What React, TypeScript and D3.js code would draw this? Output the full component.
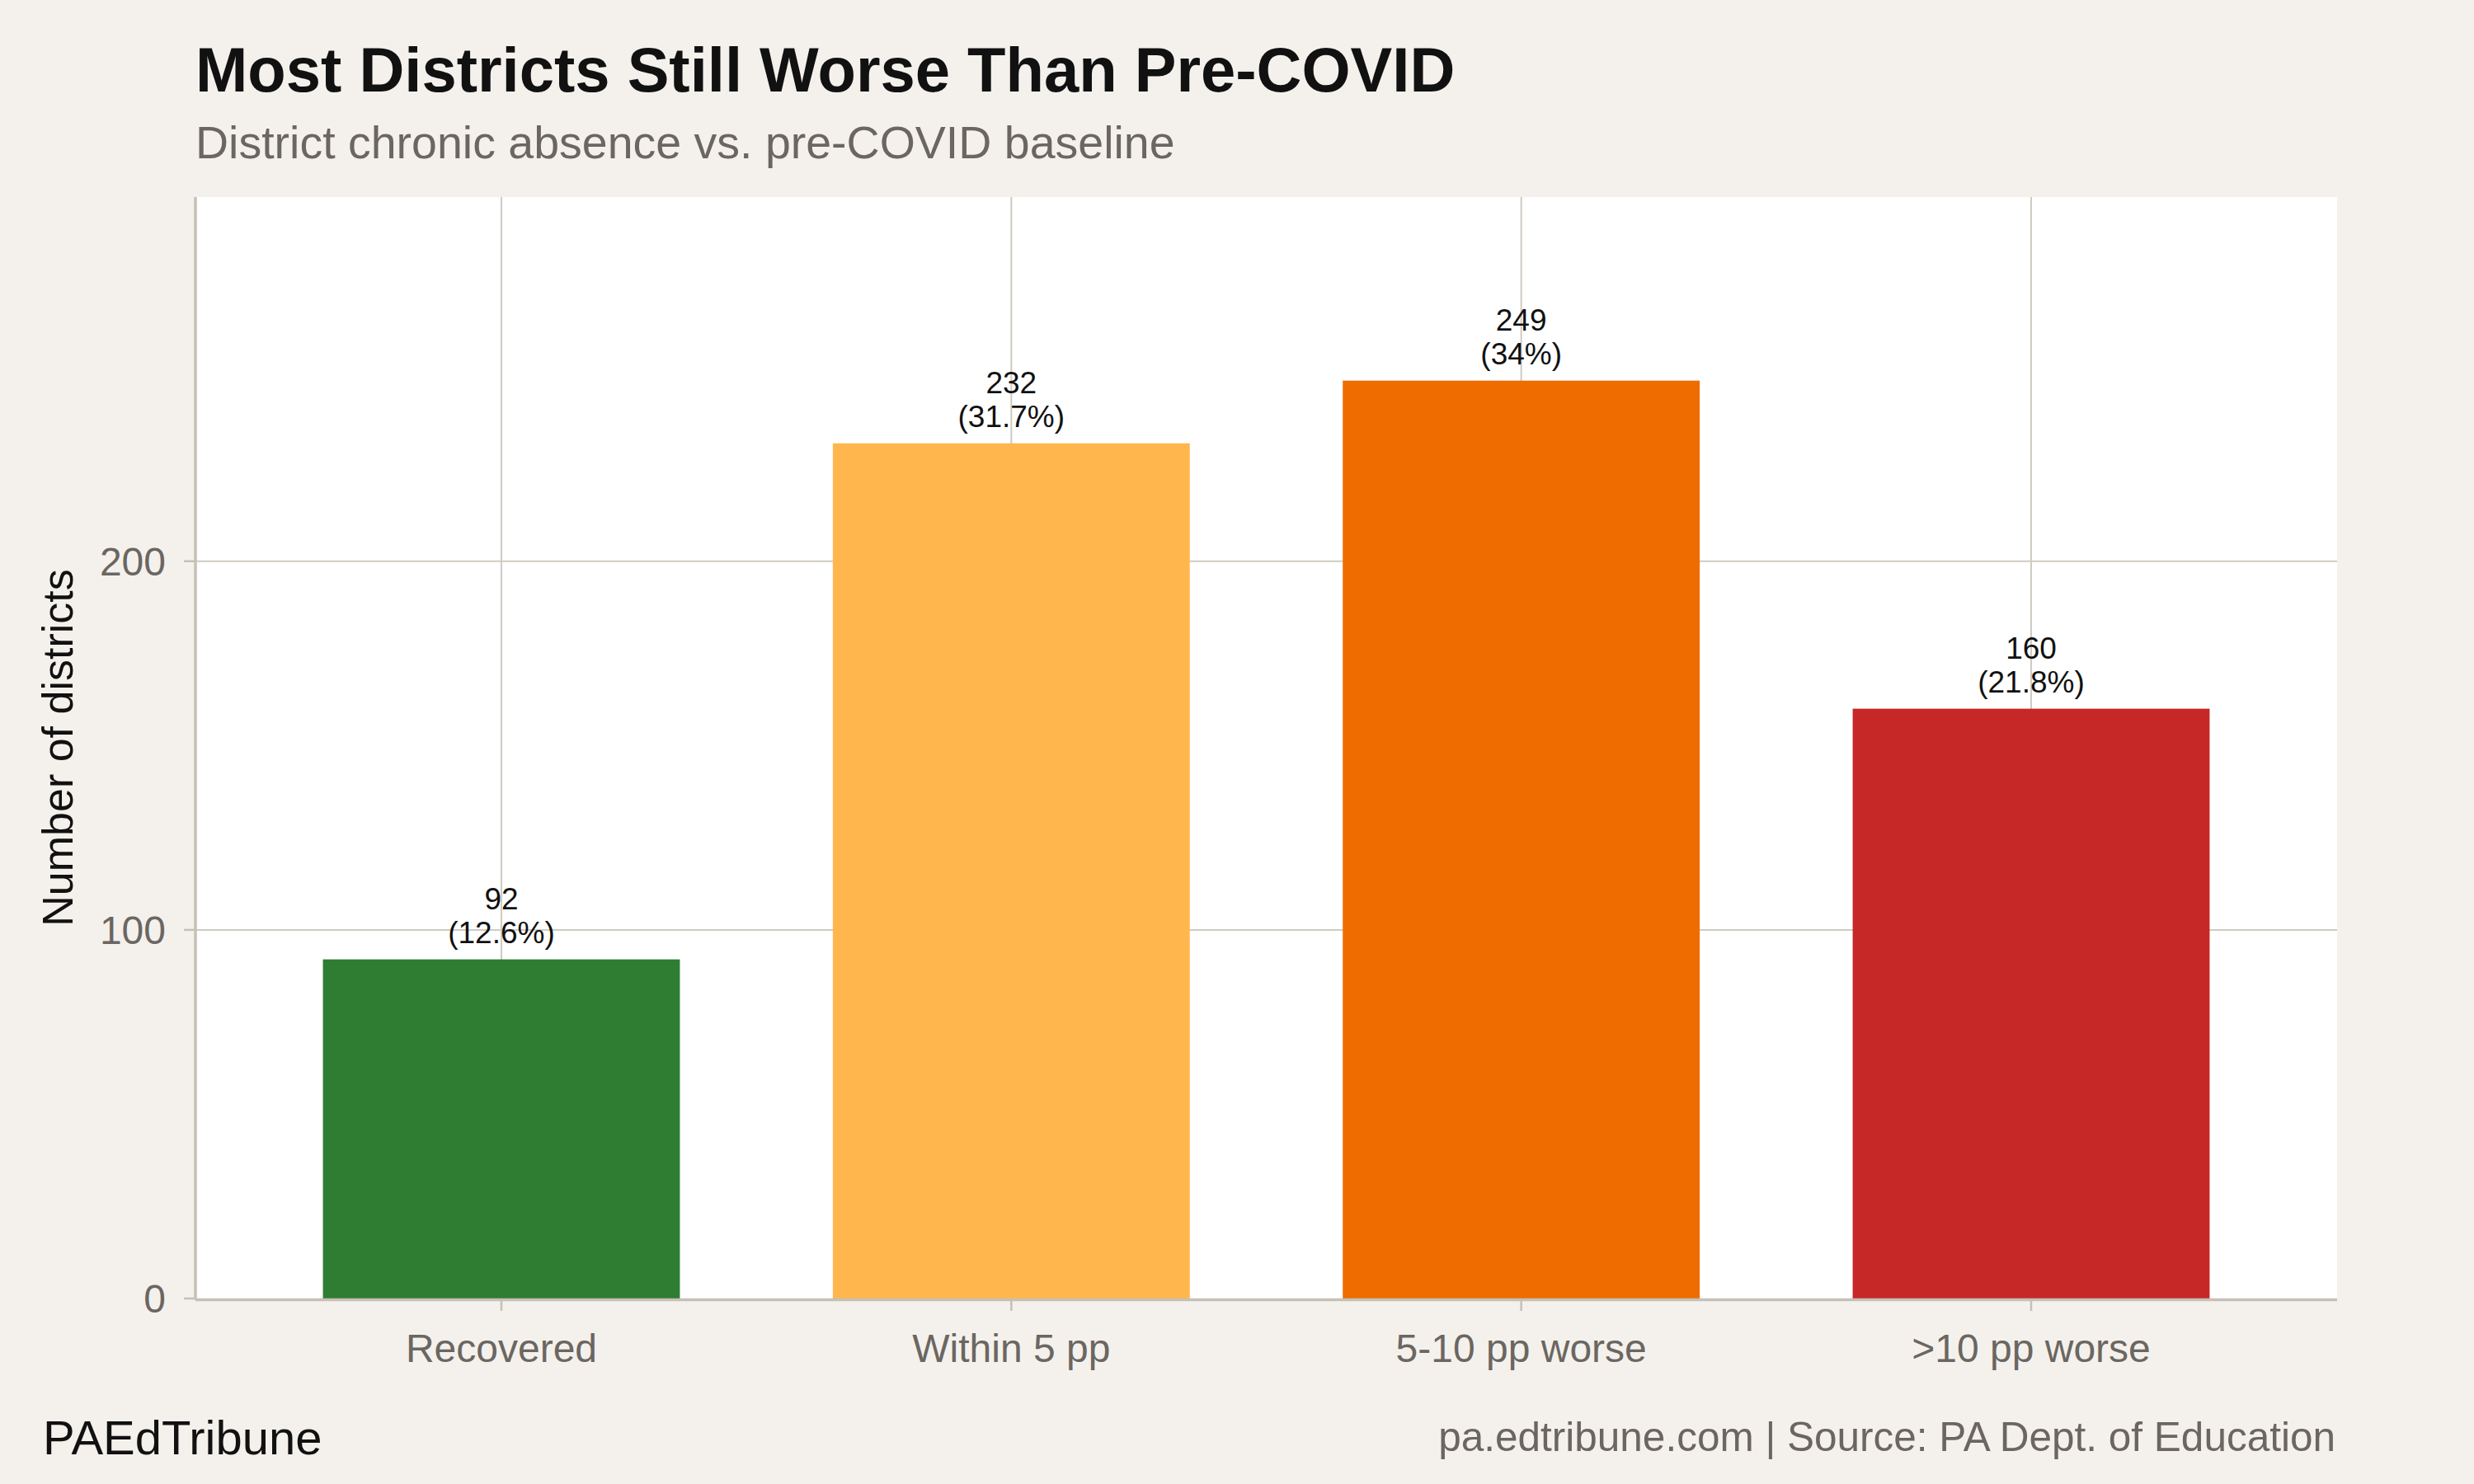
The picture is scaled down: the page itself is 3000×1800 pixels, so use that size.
import React from 'react';
import * as d3 from 'd3';

// Chronic absence change vs. pre-COVID baseline
const categories = ['Recovered', 'Within 5 pp', '5-10 pp worse', '>10 pp worse'];
const districtCounts = [92, 232, 249, 160];
const districtShares = [12.6, 31.7, 34, 21.8];
const barColors = ['#2e7d32', '#ffb74d', '#ef6c00', '#c62828'];
const yTicks = [0, 100, 200];

const W = 3000;
const H = 1800;
const margin = { top: 239, right: 166, bottom: 225, left: 237 };

const font = '"Liberation Sans", Arial, Helvetica, sans-serif';
const bg = '#f4f1ec';
const gridColor = '#d0cac1';
const axisColor = '#c6c0b6';
const grayText = '#6b6661';

const App: React.FC = () => {
  const x0 = margin.left;
  const x1 = W - margin.right;
  const y0 = H - margin.bottom;
  const y1 = margin.top;

  // mimic ggplot's discrete expansion: 0.6 units each side, bar width 0.7
  const x = d3.scaleBand<string>()
    .domain(categories)
    .range([x0, x1])
    .paddingInner(0.3)
    .paddingOuter(0.25);

  const yMax = d3.max(districtCounts)! * 1.2;
  const y = d3.scaleLinear().domain([0, yMax]).range([y0, y1]);

  const fmtShare = (v: number) => `${d3.format('.3~')(v)}%`;

  return (
    <svg
      width={W}
      height={H}
      style={{ position: 'absolute', left: 0, top: 0, display: 'block' }}
      fontFamily={font}
    >
      <rect x={0} y={0} width={W} height={H} fill={bg} />

      {/* titles */}
      <text x={x0} y={111} fontSize={76} fontWeight="bold" fill="#111">
        Most Districts Still Worse Than Pre-COVID
      </text>
      <text x={x0} y={192} fontSize={55.5} fill={grayText}>
        District chronic absence vs. pre-COVID baseline
      </text>

      {/* panel */}
      <rect x={x0} y={y1} width={x1 - x0} height={y0 - y1} fill="#fff" />

      {/* grid */}
      {yTicks.filter(t => t > 0).map(t => (
        <line key={`gy${t}`} x1={x0} x2={x1} y1={y(t)} y2={y(t)} stroke={gridColor} strokeWidth={2} />
      ))}
      {categories.map(c => {
        const cx = x(c)! + x.bandwidth() / 2;
        return <line key={`gx${c}`} x1={cx} x2={cx} y1={y1} y2={y0} stroke={gridColor} strokeWidth={2} />;
      })}

      {/* bars */}
      {categories.map((c, i) => (
        <rect
          key={`bar${c}`}
          x={x(c)!}
          y={y(districtCounts[i])}
          width={x.bandwidth()}
          height={y(0) - y(districtCounts[i])}
          fill={barColors[i]}
        />
      ))}

      {/* bar labels */}
      {categories.map((c, i) => {
        const cx = x(c)! + x.bandwidth() / 2;
        const top = y(districtCounts[i]);
        return (
          <text key={`lab${c}`} textAnchor="middle" fontSize={37} fill="#111">
            <tspan x={cx} y={top - 61}>{districtCounts[i]}</tspan>
            <tspan x={cx} y={top - 20}>({fmtShare(districtShares[i])})</tspan>
          </text>
        );
      })}

      {/* axes */}
      <line x1={x0} x2={x0} y1={y1} y2={y0 + 1.5} stroke={axisColor} strokeWidth={3.5} />
      <line x1={x0} x2={x1} y1={y0 + 1.5} y2={y0 + 1.5} stroke={axisColor} strokeWidth={3.5} />

      {yTicks.map(t => (
        <g key={`yt${t}`}>
          <line x1={x0 - 14} x2={x0} y1={y(t)} y2={y(t)} stroke={axisColor} strokeWidth={2.5} />
          <text x={201} y={y(t) + 17} textAnchor="end" fontSize={48} fill={grayText}>
            {t}
          </text>
        </g>
      ))}

      {categories.map(c => {
        const cx = x(c)! + x.bandwidth() / 2;
        return (
          <g key={`xt${c}`}>
            <line x1={cx} x2={cx} y1={y0 + 3} y2={y0 + 15} stroke={axisColor} strokeWidth={2.5} />
            <text x={cx} y={1652} textAnchor="middle" fontSize={48} fill={grayText}>
              {c}
            </text>
          </g>
        );
      })}

      <text
        transform={`translate(88, ${(y0 + y1) / 2}) rotate(-90)`}
        textAnchor="middle"
        fontSize={52}
        fill="#111"
      >
        Number of districts
      </text>

      {/* footer */}
      <text x={52} y={1764} fontSize={58} fill="#111">
        PAEdTribune
      </text>
      <text x={x1 - 2} y={1760} textAnchor="end" fontSize={49.5} fill={grayText}>
        pa.edtribune.com | Source: PA Dept. of Education
      </text>
    </svg>
  );
};

export default App;
